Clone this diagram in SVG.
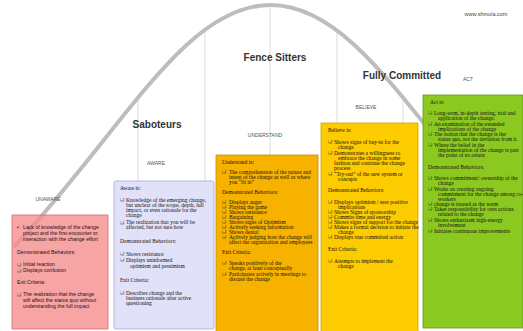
<svg xmlns="http://www.w3.org/2000/svg" width="523" height="331" viewBox="0 0 523 331">
<style>
.t{font-family:"Liberation Serif","Times New Roman",serif;font-size:5.5px;fill:#111}
.s{font-family:"Liberation Sans",Arial,sans-serif;font-size:5.2px;fill:#2a1010}
.b{font-family:"DejaVu Sans",sans-serif;font-size:4.6px;fill:#222}
.title{font-family:"Liberation Sans",Arial,sans-serif;font-size:10px;font-weight:bold;fill:#333;text-anchor:middle}
.lbl{font-family:"Liberation Sans",Arial,sans-serif;font-size:5px;fill:#555;text-anchor:middle}
.vl{stroke:#cfcfcf;stroke-width:0.7;fill:none}
</style>
<rect width="523" height="331" fill="#ffffff"/>
<g id="connectors">
  <line class="vl" x1="138" y1="100" x2="138" y2="243"/>
  <line class="vl" x1="205" y1="29" x2="205" y2="243"/>
  <line class="vl" x1="270" y1="6" x2="270" y2="160"/>
  <line class="vl" x1="337" y1="29" x2="337" y2="130"/>
  <line class="vl" x1="403" y1="100" x2="403" y2="130"/>
  <path id="curve" d="M14,247 C124,129 185,5 270.5,5 C356,5 417,129 527,247" fill="none" stroke="#bdbdbd" stroke-width="4"/>
</g>
<g id="labels">
  <text class="lbl" x="486" y="16" style="font-size:5.5px;fill:#444">www.shmula.com</text>
  <text class="title" x="157" y="127.6">Saboteurs</text>
  <text class="title" x="275" y="60.6">Fence Sitters</text>
  <text class="title" x="402" y="78.6">Fully Committed</text>
  <text class="lbl" x="48" y="200.8">UNAWARE</text>
  <text class="lbl" x="156" y="164.8">AWARE</text>
  <text class="lbl" x="265" y="136.8">UNDERSTAND</text>
  <text class="lbl" x="366" y="108.8">BELIEVE</text>
  <text class="lbl" x="468" y="80.8">ACT</text>
</g>
<g id="unaware">
  <rect x="12" y="215" width="96" height="114" fill="#f58a8c" fill-opacity="0.78" stroke="#d46a6a" stroke-width="0.8"/>
  <text class="s" x="17" y="228.8">•</text>
  <text class="s" x="23" y="228.8">Lack of knowledge of the change</text>
  <text class="s" x="23" y="234.8">project and the first encounter or</text>
  <text class="s" x="23" y="240.8">interaction with the change effort</text>
  <text class="s" x="17" y="254.3">Demonstrated Behaviors:</text>
  <text class="b" x="17" y="265.6">❑</text><text class="s" x="23" y="265.8">Initial reaction</text>
  <text class="b" x="17" y="271.6">❑</text><text class="s" x="23" y="271.8">Displays confusion</text>
  <text class="s" x="17" y="283.8">Exit Criteria:</text>
  <text class="b" x="17" y="295.6">❑</text><text class="s" x="23" y="295.8">The realization that the change</text>
  <text class="s" x="23" y="301.8">will affect the status quo without</text>
  <text class="s" x="23" y="307.8">understanding the full impact</text>
</g>
<g id="aware">
  <rect x="114" y="181" width="100" height="148" rx="1.5" fill="#dcdcf8" fill-opacity="0.85" stroke="#a9a9d2" stroke-width="0.8"/>
  <text class="t" x="120" y="189.6">Aware is:</text>
  <text class="b" x="120" y="201.4">❑</text><text class="t" x="126" y="201.6">Knowledge of the emerging change,</text>
  <text class="t" x="126" y="206.6">but unclear of the scope, depth, full</text>
  <text class="t" x="126" y="211.6">impact, or even rationale for the</text>
  <text class="t" x="126" y="216.6">change</text>
  <text class="b" x="120" y="223.9">❑</text><text class="t" x="126" y="224.1">The realization that you will be</text>
  <text class="t" x="126" y="229.1">affected, but not sure how</text>
  <text class="t" x="120" y="242.6">Demonstrated Behaviors:</text>
  <text class="b" x="120" y="255.4">❑</text><text class="t" x="126" y="255.6">Shows resistance</text>
  <text class="b" x="120" y="261.4">❑</text><text class="t" x="126" y="261.6">Displays uninformed</text>
  <text class="t" x="130" y="267.6">optimism and pessimism</text>
  <text class="t" x="120" y="281.6">Exit Criteria:</text>
  <text class="b" x="120" y="294.4">❑</text><text class="t" x="126" y="294.6">Describes change and the</text>
  <text class="t" x="126" y="299.6">business rationale after active</text>
  <text class="t" x="126" y="304.6">questioning</text>
</g>
<g id="understand">
  <rect x="216" y="155" width="102" height="178" fill="#f7b200" stroke="#c99000" stroke-width="0.8"/>
  <text class="t" x="222" y="163.6">Understand is:</text>
  <text class="b" x="222" y="173.4">❑</text><text class="t" x="229" y="173.6">The comprehension of the nature and</text>
  <text class="t" x="229" y="178.6">intent of the change as well as where</text>
  <text class="t" x="229" y="183.6">you “fit in”</text>
  <text class="t" x="222" y="193.6">Demonstrated Behaviors:</text>
  <text class="b" x="222" y="203.4">❑</text><text class="t" x="229" y="203.6">Displays anger</text>
  <text class="b" x="222" y="208.4">❑</text><text class="t" x="229" y="208.6">Playing the game</text>
  <text class="b" x="222" y="213.4">❑</text><text class="t" x="229" y="213.6">Shows resistance</text>
  <text class="b" x="222" y="218.4">❑</text><text class="t" x="229" y="218.6">Bargaining</text>
  <text class="b" x="222" y="223.4">❑</text><text class="t" x="229" y="223.6">Shows signs of Optimism</text>
  <text class="b" x="222" y="228.4">❑</text><text class="t" x="229" y="228.6">Actively seeking information</text>
  <text class="b" x="222" y="233.4">❑</text><text class="t" x="229" y="233.6">Shows denial</text>
  <text class="b" x="222" y="238.4">❑</text><text class="t" x="229" y="238.6">Actively judging how the change will</text>
  <text class="t" x="229" y="243.6">affect the organization and employees</text>
  <text class="t" x="222" y="253.6">Exit Criteria:</text>
  <text class="b" x="222" y="264.4">❑</text><text class="t" x="229" y="264.6">Speaks positively of the</text>
  <text class="t" x="229" y="269.6">change, at least conceptually</text>
  <text class="b" x="222" y="275.4">❑</text><text class="t" x="229" y="275.6">Participates actively in meetings to</text>
  <text class="t" x="229" y="280.6">discuss the change</text>
</g>
<g id="believe">
  <rect x="321" y="123" width="97" height="210" fill="#fccb00" stroke="#d2a700" stroke-width="0.8"/>
  <text class="t" x="328" y="131.6">Believe is:</text>
  <text class="b" x="328" y="143.4">❑</text><text class="t" x="334" y="143.6">Shows signs of buy-in for the</text>
  <text class="t" x="338" y="148.6">change</text>
  <text class="b" x="328" y="154.4">❑</text><text class="t" x="334" y="154.6">Demonstrates a willingness to</text>
  <text class="t" x="338" y="159.6">embrace the change in some</text>
  <text class="t" x="334" y="164.6">fashion and continue the change</text>
  <text class="t" x="334" y="169.6">process</text>
  <text class="b" x="328" y="175.4">❑</text><text class="t" x="334" y="175.6">“Try-out” of the new system or</text>
  <text class="t" x="338" y="180.6">concepts</text>
  <text class="t" x="328" y="191.6">Demonstrated Behaviors:</text>
  <text class="b" x="328" y="203.4">❑</text><text class="t" x="334" y="203.6">Displays optimism / sees positive</text>
  <text class="t" x="338" y="208.6">implications</text>
  <text class="b" x="328" y="213.4">❑</text><text class="t" x="334" y="213.6">Shows Signs of sponsorship</text>
  <text class="b" x="328" y="218.4">❑</text><text class="t" x="334" y="218.6">Commits time and energy</text>
  <text class="b" x="328" y="223.4">❑</text><text class="t" x="334" y="223.6">Shows signs of support for the change</text>
  <text class="b" x="328" y="228.4">❑</text><text class="t" x="334" y="228.6">Makes a formal decision to initiate the</text>
  <text class="t" x="338" y="233.6">change</text>
  <text class="b" x="328" y="238.4">❑</text><text class="t" x="334" y="238.6">Displays true committed action</text>
  <text class="t" x="328" y="250.6">Exit Criteria:</text>
  <text class="b" x="328" y="262.4">❑</text><text class="t" x="334" y="262.6">Attempts to implement the</text>
  <text class="t" x="338" y="267.6">change</text>
</g>
<g id="act">
  <rect x="423" y="95" width="100" height="233" fill="#8cc920" stroke="#5f9a12" stroke-width="0.8"/>
  <text class="t" x="430" y="103.6">Act is:</text>
  <text class="b" x="428" y="114.4">❑</text><text class="t" x="434" y="114.6">Long-term, in-depth testing, trial and</text>
  <text class="t" x="438" y="119.6">application of the change.</text>
  <text class="b" x="428" y="125.4">❑</text><text class="t" x="434" y="125.6">An examination of the extended</text>
  <text class="t" x="438" y="130.6">implications of the change</text>
  <text class="b" x="428" y="135.4">❑</text><text class="t" x="434" y="135.6">The notion that the change is the</text>
  <text class="t" x="438" y="140.6">status quo, not the deviation from it.</text>
  <text class="b" x="428" y="146.4">❑</text><text class="t" x="434" y="146.6">Where the belief in the</text>
  <text class="t" x="438" y="151.6">implementation of the change is past</text>
  <text class="t" x="438" y="156.6">the point of no return</text>
  <text class="t" x="428" y="168.6">Demonstrated Behaviors:</text>
  <text class="b" x="428" y="179.4">❑</text><text class="t" x="434" y="179.6">Shows commitment/ ownership of the</text>
  <text class="t" x="438" y="184.6">change</text>
  <text class="b" x="428" y="190.4">❑</text><text class="t" x="434" y="190.6">Works on creating ongoing</text>
  <text class="t" x="438" y="195.6">commitment for the change among co-</text>
  <text class="t" x="438" y="200.6">workers</text>
  <text class="b" x="428" y="205.4">❑</text><text class="t" x="434" y="205.6">change is treated as the norm</text>
  <text class="b" x="428" y="210.4">❑</text><text class="t" x="434" y="210.6">Takes responsibility for own actions</text>
  <text class="t" x="438" y="215.6">related to the change</text>
  <text class="b" x="428" y="221.4">❑</text><text class="t" x="434" y="221.6">Shows enthusiasm high-energy</text>
  <text class="t" x="438" y="226.6">involvement</text>
  <text class="b" x="428" y="232.4">❑</text><text class="t" x="434" y="232.6">Initiates continuous improvements</text>
</g>
</svg>
